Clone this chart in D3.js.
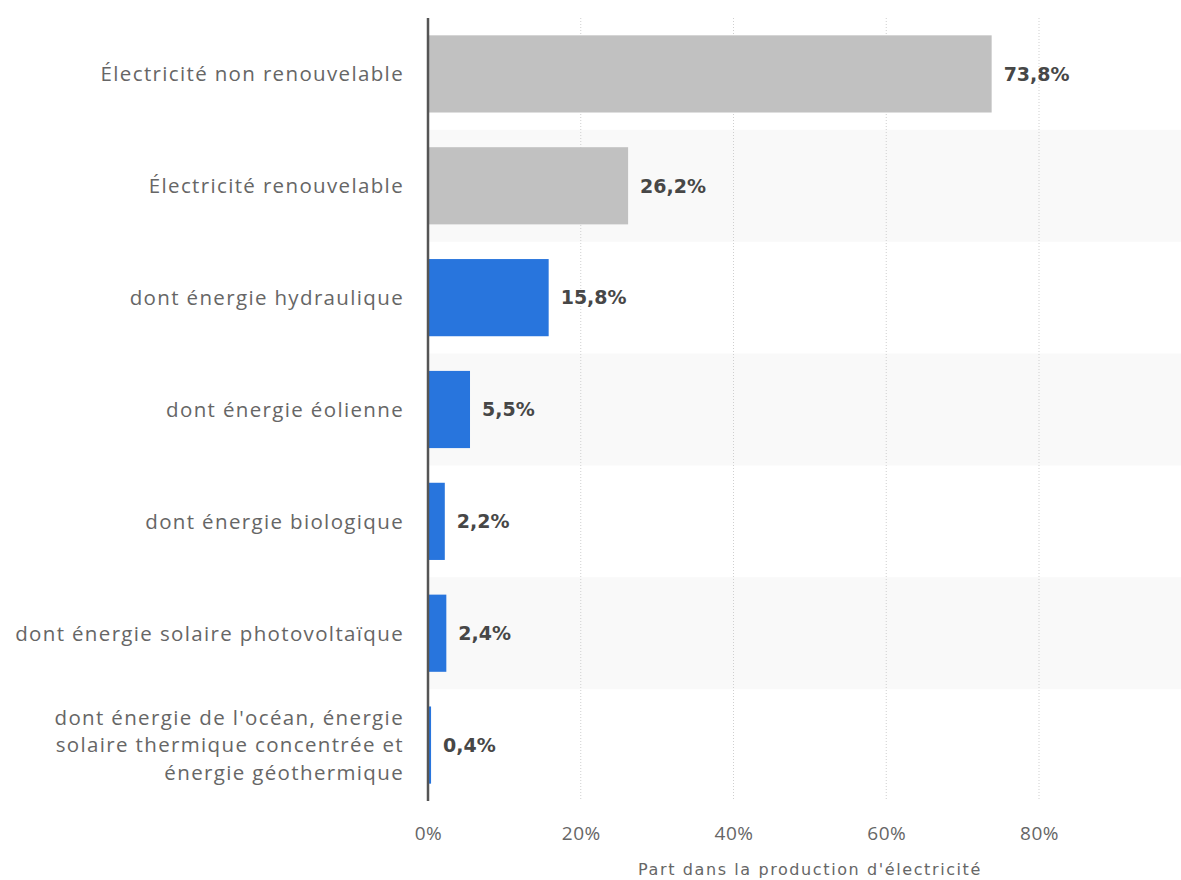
<!DOCTYPE html>
<html>
<head>
<meta charset="utf-8">
<script src="https://cdn.jsdelivr.net/npm/d3@7"></script>
<style>
  body { margin: 0; background: #fff; }
</style>
</head>
<body>
<main></main>
<script>
let svgWidth  = 1181;
let svgHeight = 880;

let categories = [
  ['Électricité non renouvelable'],
  ['Électricité renouvelable'],
  ['dont énergie hydraulique'],
  ['dont énergie éolienne'],
  ['dont énergie biologique'],
  ['dont énergie solaire photovoltaïque'],
  ["dont énergie de l'océan, énergie", 'solaire thermique concentrée et', 'énergie géothermique']
];
let values     = [73.8, 26.2, 15.8, 5.5, 2.2, 2.4, 0.4];
let barColors  = ['#c1c1c1', '#c1c1c1', '#2875dd', '#2875dd', '#2875dd', '#2875dd', '#2875dd'];
let tickValues = [0, 20, 40, 60, 80];
let axisTitle  = "Part dans la production d'électricité";

let plotLeft = 428, plotRight = 1181, plotTop = 18, plotBottom = 801;

const labelFont = '"Open Sans", sans-serif';
const valueFont = '"DejaVu Sans", Verdana, sans-serif';

document.addEventListener("DOMContentLoaded", function() {
  let svg = d3.select("body main")
    .append('svg')
    .attr('width', svgWidth)
    .attr('height', svgHeight);

  let x = d3.scaleLinear()
    .domain([0, 80])
    .range([plotLeft, 1039]);

  let y = d3.scaleBand()
    .domain(d3.range(values.length))
    .range([plotTop, plotBottom])
    .paddingInner(0)
    .paddingOuter(0);

  let barPad = 0.155;

  // stripes
  svg.selectAll('rect.stripe')
    .data(d3.range(values.length).filter(function(i) { return i % 2 == 1; }))
    .enter()
      .append('rect')
      .attr('class', 'stripe')
      .attr('x', plotLeft)
      .attr('y', function(i) { return y(i); })
      .attr('width', plotRight - plotLeft)
      .attr('height', y.bandwidth())
      .attr('fill', '#f9f9f9');

  // grid
  svg.selectAll('line.grid')
    .data(tickValues.slice(1))
    .enter()
      .append('line')
      .attr('class', 'grid')
      .attr('x1', function(d) { return x(d); })
      .attr('x2', function(d) { return x(d); })
      .attr('y1', plotTop)
      .attr('y2', plotBottom)
      .attr('stroke', '#cfcfcf')
      .attr('stroke-width', 1)
      .attr('stroke-dasharray', '1,2');

  // bars
  svg.selectAll('rect.bar')
    .data(values)
    .enter()
      .append('rect')
      .attr('class', 'bar')
      .attr('x', plotLeft)
      .attr('y', function(d, i) { return y(i) + y.bandwidth() * barPad; })
      .attr('width', function(d) { return x(d) - plotLeft; })
      .attr('height', y.bandwidth() * (1 - 2 * barPad))
      .attr('fill', function(d, i) { return barColors[i]; });

  // value labels
  svg.selectAll('text.value')
    .data(values)
    .enter()
      .append('text')
      .attr('class', 'value')
      .attr('x', function(d) { return x(d) + 12; })
      .attr('y', function(d, i) { return y(i) + y.bandwidth() / 2; })
      .attr('dy', '0.36em')
      .attr('font-family', valueFont)
      .attr('font-weight', 'bold')
      .attr('font-size', '19px')
      .attr('fill', '#474747')
      .text(function(d) { return d3.format('.1f')(d).replace('.', ',') + '%'; });

  // category labels
  let lineH = 27.5;
  let cat = svg.selectAll('text.cat')
    .data(categories)
    .enter()
      .append('text')
      .attr('class', 'cat')
      .attr('text-anchor', 'end')
      .attr('font-family', labelFont)
      .attr('font-size', '20.5px')
      .attr('letter-spacing', '1.35px')
      .attr('fill', '#666');

  cat.each(function(lines, i) {
    let cy = y(i) + y.bandwidth() / 2;
    let t = d3.select(this);
    lines.forEach(function(l, j) {
      t.append('tspan')
        .attr('x', 404)
        .attr('y', cy + (j - (lines.length - 1) / 2) * lineH)
        .attr('dy', '0.36em')
        .text(l);
    });
  });

  // x axis
  let xAxis = d3.axisBottom(x)
    .tickValues(tickValues)
    .tickSize(0)
    .tickPadding(0)
    .tickFormat(function(d) { return d + '%'; });

  let gx = svg.append('g')
    .attr('transform', 'translate(0,' + 833 + ')')
    .call(xAxis);
  gx.select('.domain').remove();
  gx.selectAll('text')
    .attr('dy', '0.36em')
    .attr('font-family', labelFont)
    .attr('font-size', '19px')
    .attr('letter-spacing', '0.5px')
    .attr('fill', '#666');

  // y axis line
  svg.append('line')
    .attr('x1', plotLeft)
    .attr('x2', plotLeft)
    .attr('y1', plotTop)
    .attr('y2', plotBottom)
    .attr('stroke', '#555')
    .attr('stroke-width', 2.5);

  // axis title
  svg.append('text')
    .attr('x', 810)
    .attr('y', 875)
    .attr('text-anchor', 'middle')
    .attr('font-family', valueFont)
    .attr('font-size', '16px')
    .attr('letter-spacing', '1.6px')
    .attr('fill', '#666')
    .text(axisTitle);
});
</script>
</body>
</html>
